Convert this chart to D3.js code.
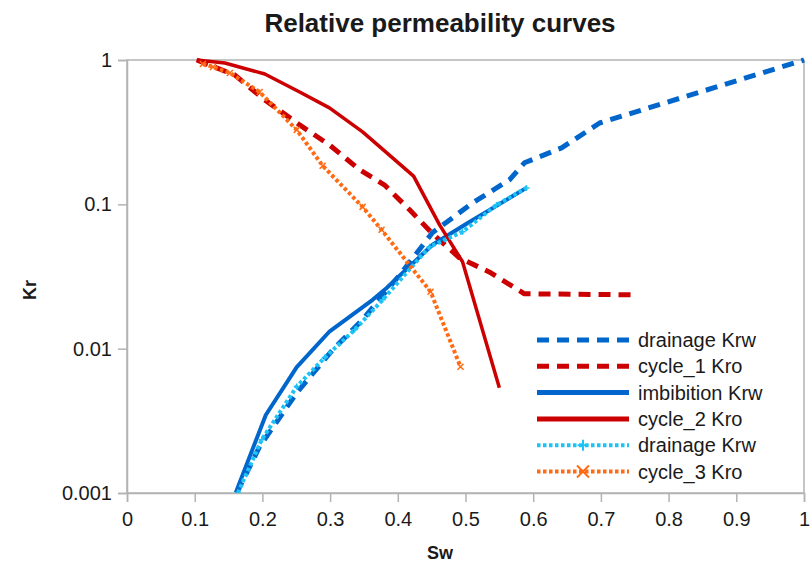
<!DOCTYPE html>
<html>
<head>
<meta charset="utf-8">
<script src="https://cdn.jsdelivr.net/npm/d3@7"></script>
<style>
  html, body { margin: 0; padding: 0; background: #fff; }
  svg { display: block; font-family: "Liberation Sans", Arial, sans-serif; }
</style>
</head>
<body>
<svg id="chart" width="812" height="566"></svg>
<script>
// Water saturation / relative permeability samples for each curve
const drainageKrwSw = [0.162, 0.196, 0.251, 0.304, 0.348, 0.403, 0.451, 0.510, 0.565, 0.587, 0.642, 0.698, 1.0];
const drainageKrwKr = [0.001, 0.0021, 0.00497, 0.00984, 0.0159, 0.0325, 0.0635, 0.102, 0.148, 0.194, 0.246, 0.366, 1.0];

const cycle1KroSw = [0.103, 0.159, 0.2035, 0.255, 0.299, 0.344, 0.3805, 0.4174, 0.45, 0.491, 0.535, 0.587, 0.749];
const cycle1KroKr = [1.0, 0.788, 0.529, 0.355, 0.258, 0.173, 0.136, 0.0916, 0.0635, 0.0426, 0.034, 0.024, 0.0236];

const imbibitionKrwSw = [0.1608, 0.205, 0.2507, 0.2994, 0.3628, 0.3835, 0.4513, 0.5015, 0.590];
const imbibitionKrwKr = [0.00101, 0.00347, 0.00745, 0.0132, 0.0218, 0.0263, 0.0525, 0.0733, 0.130];

const cycle2KroSw = [0.103, 0.1445, 0.2035, 0.255, 0.299, 0.348, 0.4233, 0.4617, 0.4956, 0.550];
const cycle2KroKr = [1.0, 0.953, 0.80, 0.60, 0.466, 0.318, 0.157, 0.0721, 0.040, 0.00537];

const drainage2KrwSw = [0.1637, 0.199, 0.2507, 0.292, 0.3363, 0.3776, 0.447, 0.4956, 0.5457, 0.590];
const drainage2KrwKr = [0.001, 0.00234, 0.00546, 0.00867, 0.0135, 0.0218, 0.0508, 0.0645, 0.099, 0.130];

const cycle3KroSw = [0.112, 0.127, 0.152, 0.196, 0.2507, 0.289, 0.348, 0.376, 0.4484, 0.4926];
const cycle3KroKr = [0.938, 0.895, 0.813, 0.60, 0.328, 0.185, 0.096, 0.0666, 0.0248, 0.0075];

const xTicks = [0, 0.1, 0.2, 0.3, 0.4, 0.5, 0.6, 0.7, 0.8, 0.9, 1];
const yTicks = [0.001, 0.01, 0.1, 1];
const yTickLabels = ["0.001", "0.01", "0.1", "1"];

const seriesNames = ["drainage Krw", "cycle_1 Kro", "imbibition Krw", "cycle_2 Kro", "drainage Krw", "cycle_3 Kro"];

const zip = (xs, ys) => xs.map((v, i) => ({ x: v, y: ys[i] }));

const series = [
  { name: seriesNames[0], pts: zip(drainageKrwSw, drainageKrwKr), color: "#0066cc", width: 5, dash: "12,8", marker: null },
  { name: seriesNames[1], pts: zip(cycle1KroSw, cycle1KroKr), color: "#cc0000", width: 5, dash: "12,8", marker: null },
  { name: seriesNames[2], pts: zip(imbibitionKrwSw, imbibitionKrwKr), color: "#0066cc", width: 4, dash: null, marker: null },
  { name: seriesNames[3], pts: zip(cycle2KroSw, cycle2KroKr), color: "#cc0000", width: 3.5, dash: null, marker: null },
  { name: seriesNames[4], pts: zip(drainage2KrwSw, drainage2KrwKr), color: "#1ec3f5", width: 4, dash: "3.5,2.5", marker: "plus" },
  { name: seriesNames[5], pts: zip(cycle3KroSw, cycle3KroKr), color: "#ff6a13", width: 4, dash: "3.5,2.5", marker: "cross" }
];

const svg = d3.select("#chart");
const plotLeft = 127, plotRight = 804, plotTop = 60, plotBottom = 493;

const xScale = d3.scaleLinear().domain([0, 1]).range([plotLeft, plotRight]);
const yScale = d3.scaleLog().domain([0.001, 1]).range([plotBottom, plotTop]);

const frameColor = "#b3b3b3";
const textColor = "#1a1a1a";

// Title
svg.append("text")
  .attr("x", 440).attr("y", 32)
  .attr("text-anchor", "middle")
  .attr("font-size", 26).attr("font-weight", "bold")
  .attr("fill", textColor)
  .text("Relative permeability curves");

// Plot frame
svg.append("rect")
  .attr("x", plotLeft).attr("y", plotTop)
  .attr("width", plotRight - plotLeft).attr("height", plotBottom - plotTop)
  .attr("fill", "none").attr("stroke", frameColor).attr("stroke-width", 1.5);

// X axis
const xAxis = d3.axisBottom(xScale).tickValues(xTicks).tickSize(9).tickPadding(10)
  .tickFormat(d => String(+d.toFixed(1)));
const gx = svg.append("g").attr("transform", `translate(0,${plotBottom})`).call(xAxis);
gx.select(".domain").attr("stroke", frameColor).attr("stroke-width", 1.5);
gx.selectAll(".tick line").attr("stroke", frameColor).attr("stroke-width", 1.5);
gx.selectAll(".tick text").attr("font-size", 20).attr("fill", textColor)
  .attr("font-family", "Liberation Sans, Arial, sans-serif");

// Y axis
const yAxis = d3.axisLeft(yScale).tickValues(yTicks).tickSize(9).tickPadding(6)
  .tickFormat((d, i) => yTickLabels[i]);
const gy = svg.append("g").attr("transform", `translate(${plotLeft},0)`).call(yAxis);
gy.select(".domain").attr("stroke", frameColor).attr("stroke-width", 1.5);
gy.selectAll(".tick line").attr("stroke", frameColor).attr("stroke-width", 1.5);
gy.selectAll(".tick text").attr("font-size", 20).attr("fill", textColor)
  .attr("font-family", "Liberation Sans, Arial, sans-serif");

// Axis titles
svg.append("text")
  .attr("x", 440).attr("y", 559)
  .attr("text-anchor", "middle")
  .attr("font-size", 18).attr("font-weight", "bold").attr("fill", textColor)
  .text("Sw");
svg.append("text")
  .attr("transform", "translate(36,290) rotate(-90)")
  .attr("text-anchor", "middle")
  .attr("font-size", 18).attr("font-weight", "bold").attr("fill", textColor)
  .text("Kr");

// Clip to plot area
svg.append("defs").append("clipPath").attr("id", "plotClip")
  .append("rect").attr("x", plotLeft).attr("y", plotTop - 6)
  .attr("width", plotRight - plotLeft + 6).attr("height", plotBottom - plotTop + 6);

const plot = svg.append("g").attr("clip-path", "url(#plotClip)");
const line = d3.line().x(d => xScale(d.x)).y(d => yScale(d.y));

function drawMarker(g, type, cx, cy, size, color, sw) {
  const h = size / 2;
  if (type === "plus") {
    g.append("path")
      .attr("d", `M${cx - h},${cy}H${cx + h}M${cx},${cy - h}V${cy + h}`)
      .attr("stroke", color).attr("stroke-width", sw).attr("fill", "none");
  } else if (type === "cross") {
    g.append("path")
      .attr("d", `M${cx - h},${cy - h}L${cx + h},${cy + h}M${cx - h},${cy + h}L${cx + h},${cy - h}`)
      .attr("stroke", color).attr("stroke-width", sw).attr("fill", "none");
  }
}

series.forEach(s => {
  plot.append("path")
    .datum(s.pts)
    .attr("d", line)
    .attr("fill", "none")
    .attr("stroke", s.color)
    .attr("stroke-width", s.width)
    .attr("stroke-linejoin", "round")
    .attr("stroke-dasharray", s.dash);
  if (s.marker) {
    const mg = plot.append("g");
    s.pts.forEach(p => drawMarker(mg, s.marker, xScale(p.x), yScale(p.y), 6, s.color, 1.5));
  }
});

// Legend
const legend = svg.append("g");
const legendTop = 340, rowGap = 26.3;
series.forEach((s, i) => {
  const cy = legendTop + i * rowGap;
  legend.append("line")
    .attr("x1", 537).attr("x2", 629)
    .attr("y1", cy).attr("y2", cy)
    .attr("stroke", s.color)
    .attr("stroke-width", s.marker ? 4 : 5)
    .attr("stroke-dasharray", s.dash);
  if (s.marker) drawMarker(legend, s.marker, 583, cy, s.marker === "cross" ? 12 : 11, s.color, 2);
  legend.append("text")
    .attr("x", 638).attr("y", cy + 7)
    .attr("font-size", 20).attr("fill", textColor)
    .text(s.name);
});
</script>
</body>
</html>
